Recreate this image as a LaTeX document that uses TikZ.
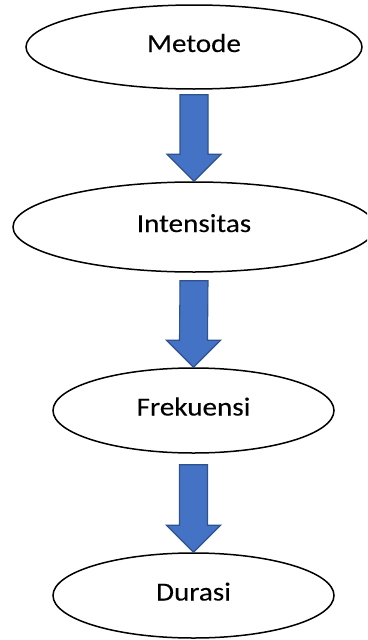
\documentclass[tikz,border=0pt]{standalone}
\usepackage{fontspec}
\setmainfont{Carlito}[FakeStretch=1.12,FakeBold=0.1]
\usetikzlibrary{calc,shapes.geometric}
\definecolor{arrowfill}{HTML}{4472C4}
\definecolor{arrowline}{HTML}{2F528F}
\tikzset{
  stage/.style={ellipse, draw=black, line width=1.5pt, fill=white, inner sep=0pt,
    text height=10pt, text depth=0pt, font=\fontsize{26}{30}\selectfont},
  blockarrow/.style={fill=arrowfill, draw=arrowline, line width=1.1pt, line join=miter}
}
% block arrow from the bottom of one stage to the top of the next
\newcommand\flowarrow[3]{%
  \draw[blockarrow] ($(#1.south)+(-14,#3)$) -- ($(#2.north)+(-14,-27)$)
    -- ($(#2.north)+(-27,-27)$) -- (#2.north) -- ($(#2.north)+(27,-27)$)
    -- ($(#2.north)+(14,-27)$) -- ($(#1.south)+(14,#3)$) -- cycle;}
\begin{document}
\begin{tikzpicture}[x=1pt,y=-1pt]
  \useasboundingbox (0,0) rectangle (367,640);
  \clip (0,0) rectangle (367,640);
  \fill[white] (0,0) rectangle (367,640);
  \node[stage, minimum width=336pt, minimum height=84pt] (metode) at (194,47) {Metode};
  \node[stage, minimum width=362pt, minimum height=90pt] (intensitas) at (194,227) {Intensitas};
  \node[stage, minimum width=281pt, minimum height=85pt] (frekuensi) at (193.5,410.5) {Frekuensi};
  \node[stage, minimum width=281pt, minimum height=85pt] (durasi) at (193.5,595.5) {Durasi};
  \flowarrow{metode}{intensitas}{5}
  \flowarrow{intensitas}{frekuensi}{8}
  \flowarrow{frekuensi}{durasi}{11}
\end{tikzpicture}
\end{document}
